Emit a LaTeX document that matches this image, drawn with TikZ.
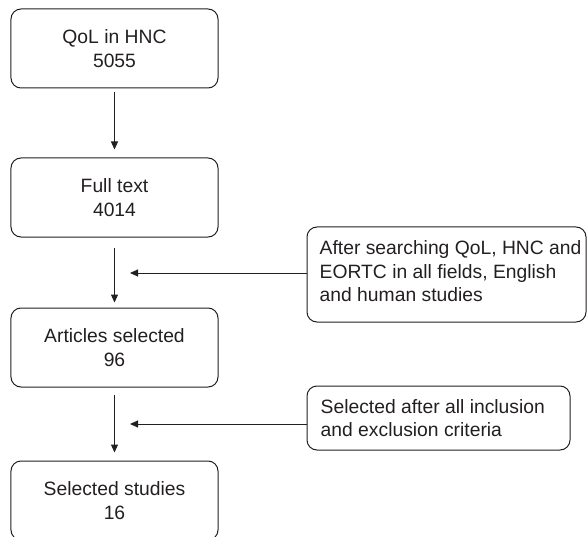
\documentclass[tikz,border=0pt]{standalone}
\usepackage{fontspec}
\setmainfont{Liberation Sans}
\usetikzlibrary{arrows.meta}
\definecolor{ink}{HTML}{231F20}
\begin{document}
\begin{tikzpicture}[x=1bp,y=-1bp,
  font=\fontsize{19.3bp}{23.5bp}\selectfont,
  box/.style={draw=ink, line width=1bp, rounded corners=10bp,
    minimum width=207bp, minimum height=79bp, align=center,
    text=ink, inner sep=0pt},
  frame/.style={draw=ink, line width=1bp, rounded corners=10bp, inner sep=0pt},
  lbl/.style={align=left, text=ink, inner sep=0pt, anchor=west},
  arr/.style={draw=ink, line width=1bp, -{Triangle[length=8bp,width=7bp]}}]
\useasboundingbox (0,0) rectangle (587,537);
% main column
\node[box] (b1) at (114.5,48.5) {QoL in HNC\\5055};
\node[box] (b2) at (114.5,197.5) {Full text\\4014};
\node[box] (b3) at (114.5,347.5) {Articles selected\\96};
\node[box] (b4) at (114.5,500.5) {Selected studies\\16};
% side boxes
\node[frame, minimum width=279bp, minimum height=95bp] (r1) at (446.5,274.5) {};
\node[lbl] (r1t) at ([xshift=13bp,yshift=3bp]r1.west)
  {After searching QoL, HNC and\\EORTC in all fields, English\\and human studies};
\node[frame, minimum width=263bp, minimum height=64bp] (r2) at (438.5,418) {};
\node[lbl] (r2t) at ([xshift=14bp]r2.west)
  {Selected after all inclusion\\and exclusion criteria};
% vertical arrows
\draw[arr, shorten <=4bp, shorten >=8bp] (b1) -- (b2);
\draw[arr, shorten <=10bp, shorten >=5bp] (b2) -- (b3);
\draw[arr, shorten <=7bp, shorten >=8bp] (b3) -- (b4);
% side arrows
\coordinate (t1) at (130,273);
\coordinate (t2) at (130,424);
\draw[arr] (r1.west |- t1) -- (t1);
\draw[arr] (r2.west |- t2) -- (t2);
\end{tikzpicture}
\end{document}
